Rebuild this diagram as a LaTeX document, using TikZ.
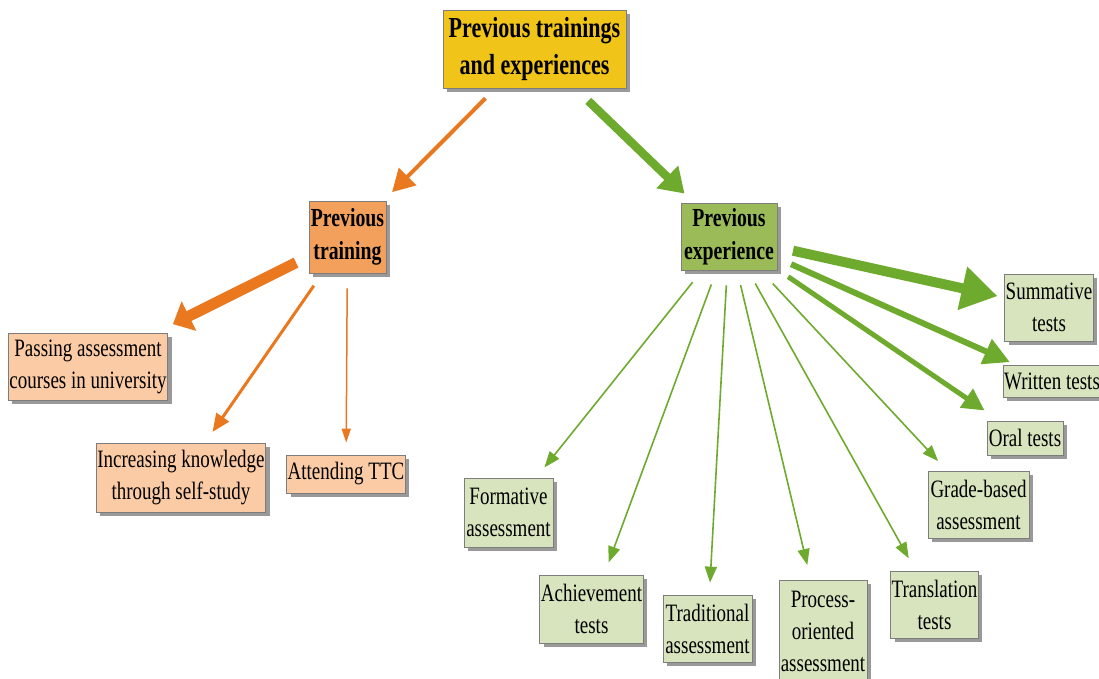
\documentclass[tikz,border=0pt]{standalone}
\usepackage{fontspec}
\setmainfont{Liberation Serif}[FakeStretch=0.76]
\usetikzlibrary{arrows.meta,shadows}
\definecolor{topc}{RGB}{240,196,25}
\definecolor{trainc}{RGB}{242,160,92}
\definecolor{expc}{RGB}{155,187,89}
\definecolor{lorange}{RGB}{251,203,165}
\definecolor{lgreen}{RGB}{215,228,189}
\definecolor{arrorange}{RGB}{233,120,30}
\definecolor{arrgreen}{RGB}{110,170,45}
\definecolor{bordc}{RGB}{125,125,125}
\tikzset{
  box/.style={draw=bordc, line width=0.8pt, inner sep=1pt, align=center,
    drop shadow={shadow xshift=4pt, shadow yshift=-4pt, fill=black!40, opacity=1},
    font=\fontsize{25}{32}\selectfont},
  bbox/.style={box, font=\fontsize{26}{33}\selectfont\bfseries},
  obox/.style={box, fill=lorange},
  gbox/.style={box, fill=lgreen},
  oarr/.style={draw=arrorange, fill=arrorange, shorten <=15pt, shorten >=13pt},
  garr/.style={draw=arrgreen, fill=arrgreen, shorten <=15pt, shorten >=13pt},
}
\begin{document}
\begin{tikzpicture}[x=1pt,y=-1pt]
\useasboundingbox (0,0) rectangle (1099,679);
\clip (0,0) rectangle (1099,679);
% main nodes
\node[bbox, fill=topc, minimum width=183pt, minimum height=78pt, font=\fontsize{29}{37}\selectfont\bfseries] (top) at (534.5,49) {Previous trainings\\and experiences};
\node[bbox, fill=trainc, minimum width=77pt, minimum height=72pt] (train) at (347.5,237) {Previous\\training};
\node[bbox, fill=expc, minimum width=96pt, minimum height=67pt] (exp) at (729,236.5) {Previous\\experience};
% training children
\node[obox, minimum width=156pt, minimum height=67pt] (pass) at (88,366.5) {Passing assessment\\courses in university};
\node[obox, minimum width=168pt, minimum height=69pt] (incr) at (181,477.5) {Increasing knowledge\\through self-study};
\node[obox, minimum width=118pt, minimum height=38pt] (ttc) at (346,474) {Attending TTC};
% experience children
\node[gbox, minimum width=88pt, minimum height=67pt] (summ) at (1049,307.5) {Summative\\tests};
\node[gbox, minimum width=98pt, minimum height=32pt] (writ) at (1052,381) {Written tests};
\node[gbox, minimum width=76pt, minimum height=34pt] (oral) at (1025,438) {Oral tests};
\node[gbox, minimum width=101pt, minimum height=67pt] (grade) at (978.5,504.5) {Grade-based\\assessment};
\node[gbox, minimum width=89pt, minimum height=69pt] (form) at (508.5,512.5) {Formative\\assessment};
\node[gbox, minimum width=103pt, minimum height=68pt] (ach) at (591.5,609) {Achievement\\tests};
\node[gbox, minimum width=89pt, minimum height=67pt] (trad) at (707.5,628.5) {Traditional\\assessment};
\node[gbox, minimum width=88pt, minimum height=102pt] (proc) at (823,631) {Process-\\oriented\\assessment};
\node[gbox, minimum width=85pt, minimum height=67pt] (trans) at (934.5,604.5) {Translation\\tests};
% arrows from top
\draw[oarr, line width=4pt, shorten <=14pt, shorten >=12pt, -{Triangle[length=22pt,width=24pt]}] (top) -- (train);
\draw[garr, line width=8.5pt, shorten <=18pt, shorten >=13pt, -{Triangle[length=24pt,width=30pt]}] (top) -- (exp);
% arrows from training
\draw[oarr, line width=11pt, shorten <=14pt, shorten >=19pt, -{Triangle[length=18pt,width=32pt]}] (train) -- (pass);
\draw[oarr, line width=3pt, -{Triangle[length=18pt,width=15pt]}] (train) -- (incr);
\draw[oarr, line width=1.5pt, shorten >=12pt, -{Triangle[length=14pt,width=9pt]}] (train) -- (ttc);
% arrows from experience
\draw[garr, line width=10pt, shorten <=16pt, shorten >=7pt, -{Triangle[length=36pt,width=42pt]}] (exp) -- (summ);
\draw[garr, line width=6pt, shorten <=15pt, shorten >=6pt, -{Triangle[length=26pt,width=26pt]}] (exp) -- (writ);
\draw[garr, line width=5pt, shorten <=13pt, shorten >=18pt, -{Triangle[length=22pt,width=22pt]}] (exp) -- (oral);
\draw[garr, line width=1.6pt, shorten <=18pt, -{Triangle[length=16pt,width=12pt]}] (exp) -- (grade);
\draw[garr, line width=1.6pt, -{Triangle[length=16pt,width=12pt]}] (exp) -- (form);
\draw[garr, line width=1.6pt, -{Triangle[length=16pt,width=12pt]}] (exp) -- (ach);
\draw[garr, line width=1.6pt, shorten >=12pt, -{Triangle[length=16pt,width=12pt]}] (exp) -- (trad);
\draw[garr, line width=1.6pt, shorten >=15pt, -{Triangle[length=16pt,width=12pt]}] (exp) -- (proc);
\draw[garr, line width=1.6pt, shorten >=14pt, -{Triangle[length=16pt,width=12pt]}] (exp) -- (trans);
\end{tikzpicture}
\end{document}
